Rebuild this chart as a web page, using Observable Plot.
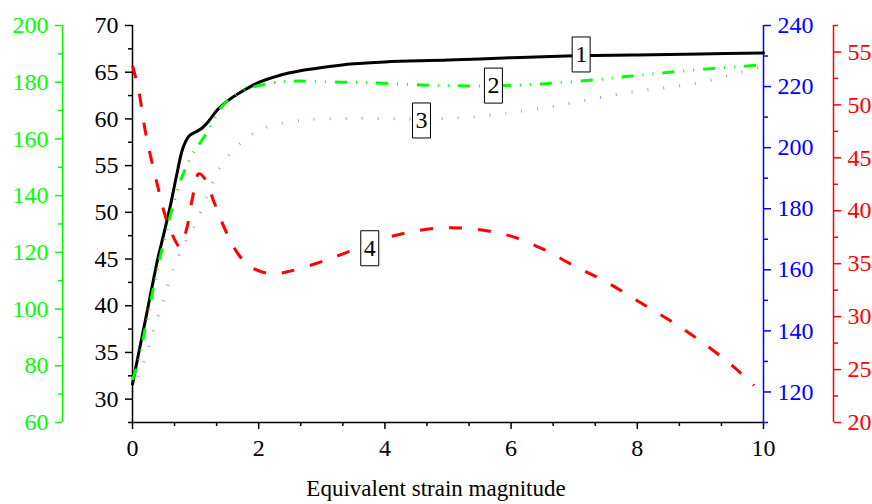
<!DOCTYPE html>
<html><head><meta charset="utf-8">
<script src="https://cdn.jsdelivr.net/npm/d3@7"></script>
<script src="https://cdn.jsdelivr.net/npm/@observablehq/plot@0.6"></script>
<style>
body{margin:0;background:#fff;} svg{display:block;}
svg text{font-family:'Liberation Serif',serif !important;font-variant-numeric:normal !important;}
</style>
</head><body><div id="chart"></div>
<script>
// ---- data ----
const strain1 = [0,0.1,0.2,0.3,0.4,0.5,0.6,0.7,0.8,0.9,1.0,1.1,1.2,1.35,1.5,1.7,2.0,2.3,2.7,3.0,3.5,4,5,6,7,8,9,10];
const curve1  = [31.6,35.0,38.3,41.7,45.0,47.8,50.7,54.0,56.9,58.2,58.6,59.0,59.7,61.0,61.9,62.8,63.9,64.6,65.2,65.5,65.9,66.1,66.3,66.55,66.75,66.85,66.95,67.05];

const strain2 = [0,0.1,0.2,0.3,0.4,0.5,0.6,0.7,0.8,0.9,1.0,1.1,1.2,1.4,1.6,1.8,2.0,2.3,2.6,3,3.5,4,4.5,5,5.5,6,6.5,7,7.5,8,8.5,9,9.5,10];
const curve2  = [75,82,93,104,114.5,124,133,141,147.5,152.5,156.5,159.5,163,171,175,177.5,178.8,180,180.4,180.2,179.9,179.6,179.1,178.8,178.7,178.9,179.4,180.2,181.2,182.4,183.5,184.5,185.3,186.2];

const strain3 = [0,0.1,0.2,0.3,0.4,0.5,0.6,0.7,0.8,0.9,1.0,1.1,1.2,1.3,1.4,1.6,1.8,2.0,2.3,2.7,3.0,3.5,4,4.5,5,5.5,6,6.5,7,7.5,8,8.5,9,9.5,10];
const curve3  = [120,126,131,138,144.5,150.5,157.5,163,167.5,171.5,175,180,185,190,194,199.3,203,205.6,207.7,209,209.4,209.6,209.5,209.4,209.6,210.3,211.5,213,214.8,216.8,218.5,219.8,221.3,224,226.6];

const strain4 = [0,0.1,0.2,0.3,0.4,0.5,0.6,0.75,0.85,0.95,1.05,1.15,1.3,1.5,1.7,1.9,2.2,2.5,3,3.5,4,4.5,5,5.5,6,6.5,7,7.5,8,8.5,9,9.5,9.85];
const curve4  = [53.7,51.3,47.6,44.8,42.3,39.9,38.2,36.6,38.1,41.2,43.5,43.0,40.7,37.8,35.7,34.6,34.05,34.3,35.2,36.3,37.4,38.1,38.4,38.2,37.6,36.4,34.8,33.3,31.5,29.7,27.7,25.4,23.5];

// axis domains and ticks
const blackDomain = [27.5, 70], blackTicks = [30,35,40,45,50,55,60,65,70], blackMinor = [27.5,32.5,37.5,42.5,47.5,52.5,57.5,62.5,67.5];
const greenDomain = [60, 200],  greenTicks = [60,80,100,120,140,160,180,200], greenMinor = [70,90,110,130,150,170,190];
const blueDomain  = [110, 240], blueTicks  = [120,140,160,180,200,220,240], blueMinor = [110,130,150,170,190,210,230];
const redDomain   = [20, 57.5], redTicks   = [20,25,30,35,40,45,50,55], redMinor = [22.5,27.5,32.5,37.5,42.5,47.5,52.5,57.5];
const xTicks = [0,2,4,6,8,10];
const xMinor = [2/3,4/3,8/3,10/3,14/3,16/3,20/3,22/3,26/3,28/3];

// curve labels
const labelText  = ["1","2","3","4"];
const labelX     = [7.11, 5.72, 4.58, 3.76];
const labelValue = [66.9, 178.8, 208.9, 36.46];
const labelAxis  = ["black","green","blue","red"];

const xTitle = "Equivalent strain magnitude";

// ---- helpers ----
const norm = ([lo, hi]) => v => (v - lo) / (hi - lo);
const denorm = ([lo, hi]) => t => String(Math.round((lo + t * (hi - lo)) * 100) / 100);
const domains = {black: blackDomain, green: greenDomain, blue: blueDomain, red: redDomain};

const rows = (xs, vs, dom) => xs.map((x, i) => ({x, y: norm(dom)(vs[i])}));
const s1 = rows(strain1, curve1, blackDomain);
const s2 = rows(strain2, curve2, greenDomain);
const s3 = rows(strain3, curve3, blueDomain);
const s4 = rows(strain4, curve4, redDomain);
const labels = labelText.map((t, i) => ({text: t, x: labelX[i], y: norm(domains[labelAxis[i]])(labelValue[i])}));

const GREEN = "#00ff00", BLUE = "#0000ff", RED = "#ff0000";
const FS = 24;
const FONT = "Liberation Serif";

function yAxis(dom, ticks, minor, color, anchor, dx) {
  return [
    Plot.ruleX([anchor === "left" ? 0 : 10], {y1: 0, y2: 1, stroke: color, strokeWidth: 1.5, dx}),
    Plot.axisY(ticks.map(norm(dom)), {anchor, dx, tickSize: 7, tickPadding: 7, stroke: color, fill: color,
      tickFormat: denorm(dom), fontSize: FS, fontFamily: FONT, fontVariant: "normal", label: null, strokeWidth: 1.5}),
    Plot.axisY(minor.map(norm(dom)), {anchor, dx, tickSize: 4, stroke: color, fill: "none", label: null, strokeWidth: 1.5})
  ];
}

const boxSymbol = {draw(ctx) { ctx.moveTo(-9, -17.5); ctx.lineTo(9, -17.5); ctx.lineTo(9, 17.5); ctx.lineTo(-9, 17.5); ctx.closePath(); }};

const chart = Plot.plot({
  width: 872, height: 504,
  marginLeft: 132, marginRight: 109, marginTop: 25, marginBottom: 82,
  x: {domain: [0, 10]},
  y: {domain: [0, 1]},
  style: {fontFamily: FONT, fontSize: FS + "px", background: "white", color: "black"},
  marks: [
    ...yAxis(greenDomain, greenTicks, greenMinor, GREEN, "left", -70),
    ...yAxis(blackDomain, blackTicks, blackMinor, "black", "left", 0),
    ...yAxis(blueDomain, blueTicks, blueMinor, BLUE, "right", 0),
    ...yAxis(redDomain, redTicks, redMinor, RED, "right", 70),
    Plot.ruleY([0], {x1: 0, x2: 10, stroke: "black", strokeWidth: 1.5}),
    Plot.axisX(xTicks, {tickSize: 7, tickPadding: 9, fontSize: FS, fontFamily: FONT, fontVariant: "normal", tickFormat: d => String(d), label: null, strokeWidth: 1.5}),
    Plot.axisX(xMinor, {tickSize: 4, fill: "none", label: null, strokeWidth: 1.5}),
    Plot.line(s1, {x: "x", y: "y", stroke: "black", strokeWidth: 3, curve: "catmull-rom"}),
    Plot.line(s3, {x: "x", y: "y", stroke: BLUE, strokeWidth: 3, strokeOpacity: 0.4, strokeDasharray: "1,15", strokeLinecap: "butt", curve: "catmull-rom"}),
    Plot.line(s2, {x: "x", y: "y", stroke: GREEN, strokeWidth: 3, strokeDasharray: "12,9,1,9,1,9", strokeLinecap: "butt", curve: "catmull-rom"}),
    Plot.line(s4, {x: "x", y: "y", stroke: RED, strokeWidth: 3, strokeDasharray: "13,16", strokeLinecap: "butt", curve: "catmull-rom"}),
    Plot.dot(labels, {x: "x", y: "y", symbol: boxSymbol, fill: "white", stroke: "black", strokeWidth: 1}),
    Plot.text(labels, {x: "x", y: "y", text: "text", fontSize: FS, fontFamily: FONT, fill: "black"}),
    Plot.text([xTitle], {frameAnchor: "bottom", dy: 73, dx: -12, fontSize: 23, fontFamily: FONT, fill: "black"})
  ]
});
document.getElementById("chart").appendChild(chart);
</script>
</body></html>
